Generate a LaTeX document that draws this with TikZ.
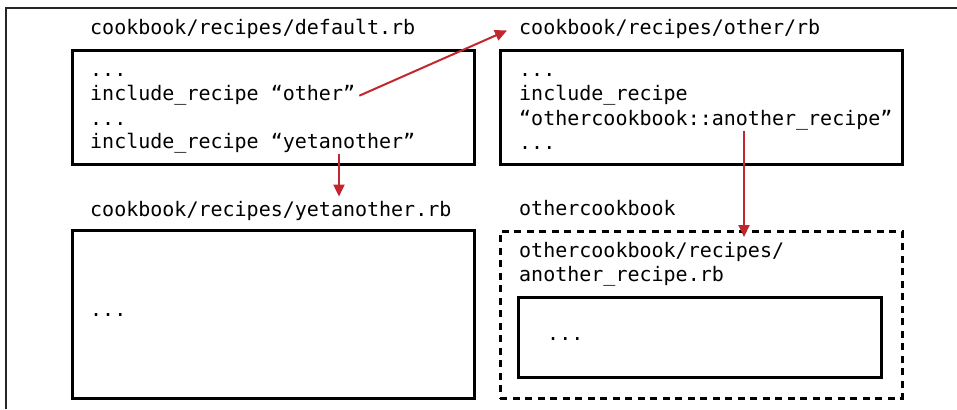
\documentclass[tikz,border=0pt]{standalone}
\usepackage{fontspec}
\setmonofont{DejaVu Sans Mono}
\usetikzlibrary{arrows.meta}
\definecolor{arrowred}{HTML}{C1272D}
\tikzset{
  codebox/.style={draw=black, line width=2.6pt, anchor=north west, inner sep=0pt},
  pkgbox/.style={draw=black, line width=2.6pt, dash pattern=on 7pt off 5.5pt, anchor=north west, inner sep=0pt},
  codetxt/.style={anchor=base west, inner sep=0pt, font=\ttfamily\fontsize{20}{24}\selectfont},
  link/.style={draw=arrowred, line width=2pt, -{Triangle[length=12pt,width=11pt]}},
  frameline/.style={draw=black!85, line width=1.3pt}
}
\begin{document}
\begin{tikzpicture}[x=1pt, y=-1pt]
  \useasboundingbox (0,0) rectangle (957,409);
  % page frame
  \draw[frameline] (6,409) -- (6,8) -- (957,8);

  % boxes
  \node[codebox, minimum width=402pt, minimum height=114pt] (boxA) at (71,49) {};
  \node[codebox, minimum width=402pt, minimum height=114pt] (boxB) at (499,49) {};
  \node[codebox, minimum width=402pt, minimum height=168pt] (boxC) at (71,229) {};
  \node[pkgbox,  minimum width=402pt, minimum height=167pt] (boxD) at (499,230) {};
  \node[codebox, minimum width=363pt, minimum height=80pt] (boxE) at (517,296) {};

  % titles
  \node[codetxt] (tA) at (90,35) {cookbook/recipes/default.rb};
  \node[codetxt] (tB) at (519,35) {cookbook/recipes/other/rb};
  \node[codetxt] (tC) at (90,216) {cookbook/recipes/yetanother.rb};
  \node[codetxt] (tD) at (519,215) {othercookbook};

  % default.rb contents
  \node[codetxt] (a1) at (90,77) {...};
  \node[codetxt] (a2) at (90,100) {include\_recipe “other”};
  \node[codetxt] (a3) at (90,125) {...};
  \node[codetxt] (a4) at (90,148) {include\_recipe “yetanother”};

  % other.rb contents
  \node[codetxt] (b1) at (519,77) {...};
  \node[codetxt] (b2) at (519,100) {include\_recipe};
  \node[codetxt] (b3) at (519,125) {“othercookbook::another\_recipe”};
  \node[codetxt] (b4) at (519,149) {...};

  % yetanother.rb contents
  \node[codetxt] (c1) at (90,316) {...};

  % othercookbook contents
  \node[codetxt] (d1) at (519,257) {othercookbook/recipes/};
  \node[codetxt] (d2) at (519,281) {another\_recipe.rb};
  \node[codetxt] (e1) at (547,340) {...};

  % connectors
  \coordinate (x2) at (339,0);
  \coordinate (x3) at (744,0);
  \draw[link] ([xshift=4pt,yshift=-1pt]a2.east) -- ([xshift=-12pt,yshift=-1pt]tB.west);
  \draw[link] ([yshift=-1pt]a4.south -| x2) -- ([yshift=4pt]tC.north -| x2);
  \draw[link] ([yshift=-1pt]b3.south -| x3) -- ([yshift=-7pt]boxD.north -| x3);
\end{tikzpicture}
\end{document}
